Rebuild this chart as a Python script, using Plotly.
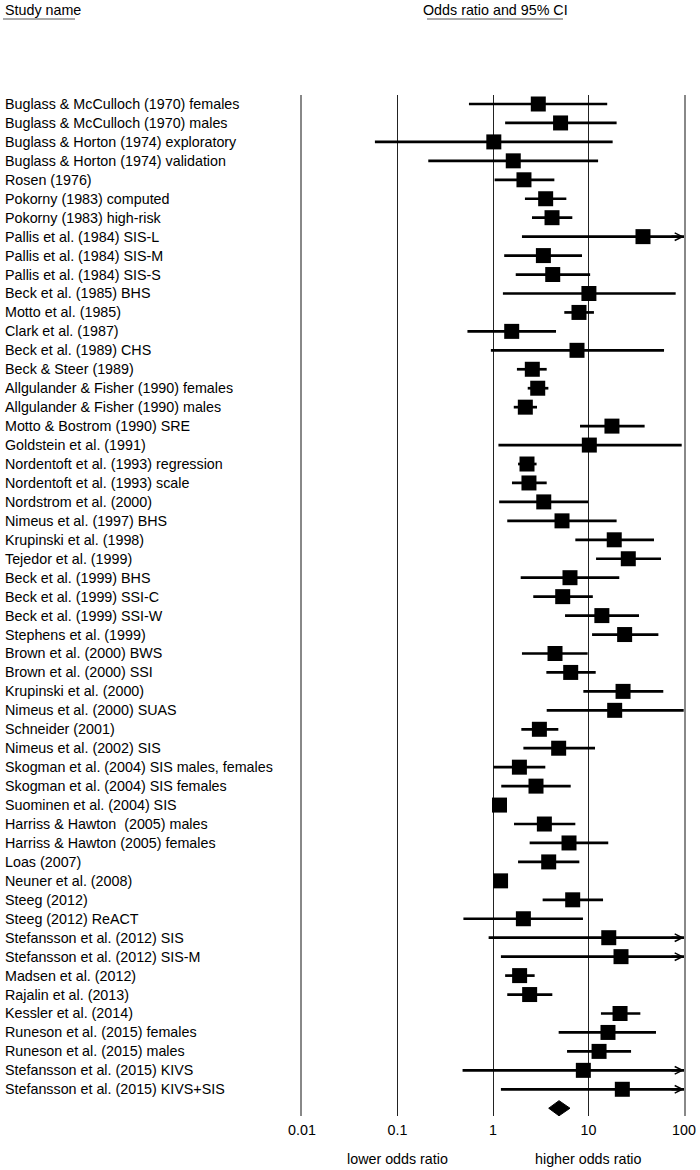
import math
import plotly.graph_objects as go

# ---------------- data ----------------
studies = [
    "Buglass & McCulloch (1970) females",
    "Buglass & McCulloch (1970) males",
    "Buglass & Horton (1974) exploratory",
    "Buglass & Horton (1974) validation",
    "Rosen (1976)",
    "Pokorny (1983) computed",
    "Pokorny (1983) high-risk",
    "Pallis et al. (1984) SIS-L",
    "Pallis et al. (1984) SIS-M",
    "Pallis et al. (1984) SIS-S",
    "Beck et al. (1985) BHS",
    "Motto et al. (1985)",
    "Clark et al. (1987)",
    "Beck et al. (1989) CHS",
    "Beck & Steer (1989)",
    "Allgulander & Fisher (1990) females",
    "Allgulander & Fisher (1990) males",
    "Motto & Bostrom (1990) SRE",
    "Goldstein et al. (1991)",
    "Nordentoft et al. (1993) regression",
    "Nordentoft et al. (1993) scale",
    "Nordstrom et al. (2000)",
    "Nimeus et al. (1997) BHS",
    "Krupinski et al. (1998)",
    "Tejedor et al. (1999)",
    "Beck et al. (1999) BHS",
    "Beck et al. (1999) SSI-C",
    "Beck et al. (1999) SSI-W",
    "Stephens et al. (1999)",
    "Brown et al. (2000) BWS",
    "Brown et al. (2000) SSI",
    "Krupinski et al. (2000)",
    "Nimeus et al. (2000) SUAS",
    "Schneider (2001)",
    "Nimeus et al. (2002) SIS",
    "Skogman et al. (2004) SIS males, females",
    "Skogman et al. (2004) SIS females",
    "Suominen et al. (2004) SIS",
    "Harriss & Hawton  (2005) males",
    "Harriss & Hawton (2005) females",
    "Loas (2007)",
    "Neuner et al. (2008)",
    "Steeg (2012)",
    "Steeg (2012) ReACT",
    "Stefansson et al. (2012) SIS",
    "Stefansson et al. (2012) SIS-M",
    "Madsen et al. (2012)",
    "Rajalin et al. (2013)",
    "Kessler et al. (2014)",
    "Runeson et al. (2015) females",
    "Runeson et al. (2015) males",
    "Stefansson et al. (2015) KIVS",
    "Stefansson et al. (2015) KIVS+SIS",
]

odds_ratio = [2.98, 5.1, 1.02, 1.63, 2.11, 3.56, 4.15, 37.2, 3.37, 4.22,
              10.1, 7.95, 1.57, 7.58, 2.58, 2.94, 2.18, 17.6, 10.2, 2.27,
              2.38, 3.4, 5.28, 18.6, 26.1, 6.4, 5.37, 13.8, 23.9, 4.46,
              6.51, 23.0, 18.8, 3.06, 4.87, 1.89, 2.82, 1.17, 3.45, 6.25,
              3.83, 1.2, 6.83, 2.08, 16.3, 21.9, 1.9, 2.42, 21.4, 16.0,
              12.9, 8.83, 22.6]

ci_lower = [0.56, 1.34, 0.058, 0.21, 1.04, 2.16, 2.56, 2.01, 1.31, 1.73,
            1.27, 5.58, 0.54, 0.95, 1.78, 2.31, 1.65, 8.15, 1.14, 1.83,
            1.58, 1.16, 1.41, 7.28, 12.0, 1.95, 2.64, 5.68, 10.9, 2.01,
            3.62, 8.83, 3.65, 1.98, 2.08, 1.01, 1.22, 1.12, 1.66, 2.42,
            1.83, 1.15, 3.31, 0.49, 0.90, 1.21, 1.34, 1.41, 13.5, 4.87,
            5.96, 0.48, 1.21]

ci_upper = [15.7, 19.7, 17.9, 12.6, 4.39, 5.86, 6.77, 690.0, 8.55, 10.4,
            81.8, 11.4, 4.57, 61.8, 3.65, 3.8, 2.89, 38.7, 94.6, 2.86,
            3.65, 9.88, 19.7, 48.5, 57.4, 21.0, 11.1, 33.8, 53.9, 9.8,
            11.9, 60.7, 99.3, 4.83, 11.7, 3.53, 6.51, 1.23, 7.28, 16.1,
            8.02, 1.26, 14.2, 8.75, 290.0, 390.0, 2.73, 4.18, 34.9, 50.9,
            27.9, 160.0, 420.0]

pooled = {"or": 4.91, "lower": 3.83, "upper": 6.4}

tick_values = [0.01, 0.1, 1, 10, 100]
tick_labels = ["0.01", "0.1", "1", "10", "100"]

# ---------------- layout constants ----------------
W, H = 700, 1170
ML, MR, MT, MB = 302, 16, 95, 54
FONT = "Liberation Sans, Arial, Helvetica, sans-serif"
FS = 14.3
X_MIN, X_MAX = 0.01, 100

n = len(studies)
rows = list(range(1, n + 1))
pooled_row = n + 1

fig = go.Figure()

# CI lines
xs, ys = [], []
for r, lo, hi in zip(rows, ci_lower, ci_upper):
    xs += [lo, hi, None]
    ys += [r, r, None]
fig.add_trace(go.Scatter(x=xs, y=ys, mode="lines",
                         line=dict(color="black", width=2.7),
                         hoverinfo="skip", showlegend=False))

# point estimates
fig.add_trace(go.Scatter(x=odds_ratio, y=rows, mode="markers",
                         marker=dict(symbol="square", size=15, color="black",
                                     line=dict(width=0)),
                         text=studies, showlegend=False))

# pooled diamond
dh = 0.4
fig.add_trace(go.Scatter(
    x=[pooled["lower"], pooled["or"], pooled["upper"], pooled["or"], pooled["lower"]],
    y=[pooled_row, pooled_row - dh, pooled_row, pooled_row + dh, pooled_row],
    mode="lines", fill="toself", fillcolor="black",
    line=dict(color="black", width=1), showlegend=False, hoverinfo="skip"))

pw = W - ML - MR
ph = H - MT - MB


def px_x(p):
    return (p - ML) / pw


def px_y(p):
    return (H - MB - p) / ph


annotations = []
# study labels
for r, name in zip(rows, studies):
    annotations.append(dict(x=px_x(3), xref="paper", xanchor="left",
                            y=r, yref="y", yanchor="middle", text=name,
                            showarrow=False, font=dict(family=FONT, size=FS, color="black")))

# arrows for CIs that extend beyond the axis
for r, hi in zip(rows, ci_upper):
    if hi > X_MAX:
        annotations.append(dict(x=math.log10(X_MAX), y=r, xref="x", yref="y",
                                ax=-14, ay=0, axref="pixel", ayref="pixel",
                                showarrow=True, arrowhead=5, arrowsize=0.6,
                                arrowwidth=2.5, arrowcolor="black", text=""))

# headers
annotations.append(dict(x=px_x(3), xref="paper", xanchor="left", y=px_y(10), yref="paper",
                        yanchor="middle", text="Study name", showarrow=False,
                        font=dict(family=FONT, size=FS, color="black")))
annotations.append(dict(x=px_x(495), xref="paper", xanchor="center", y=px_y(10), yref="paper",
                        yanchor="middle", text="Odds ratio and 95% CI", showarrow=False,
                        font=dict(family=FONT, size=FS, color="black")))
# bottom labels
for xv, txt in [(0.1, "lower odds ratio"), (10, "higher odds ratio")]:
    annotations.append(dict(x=math.log10(xv), xref="x", xanchor="center", y=0, yref="paper",
                            yanchor="middle", yshift=-43, text=txt, showarrow=False,
                            font=dict(family=FONT, size=FS, color="black")))

shapes = [
    dict(type="line", xref="paper", yref="paper", x0=px_x(3), x1=px_x(75),
         y0=px_y(19), y1=px_y(19), line=dict(color="#aaaaaa", width=2)),
    dict(type="line", xref="paper", yref="paper", x0=px_x(427), x1=px_x(563),
         y0=px_y(19), y1=px_y(19), line=dict(color="#aaaaaa", width=2)),
]

fig.update_layout(
    width=W, height=H,
    margin=dict(l=ML, r=MR, t=MT, b=MB, autoexpand=False),
    paper_bgcolor="white", plot_bgcolor="white",
    showlegend=False,
    font=dict(family=FONT, size=FS, color="black"),
    annotations=annotations,
    shapes=shapes,
    xaxis=dict(type="log", range=[math.log10(X_MIN), math.log10(X_MAX)],
               tickvals=tick_values, ticktext=tick_labels, automargin=False,
               showgrid=True, gridcolor="#222222", gridwidth=1,
               zeroline=False, showline=False, ticks="", ticklabelstandoff=4,
               tickfont=dict(family=FONT, size=FS, color="black")),
    yaxis=dict(range=[pooled_row + 0.41, 0.525], showticklabels=False, automargin=False,
               showgrid=False, zeroline=False, ticks="",
               showline=True, mirror=True, linecolor="#888888", linewidth=1.5),
)

fig.write_html("out.html",
               config={"displayModeBar": False, "responsive": False},
               post_script="document.body.style.margin='0';document.body.style.overflow='hidden';")
